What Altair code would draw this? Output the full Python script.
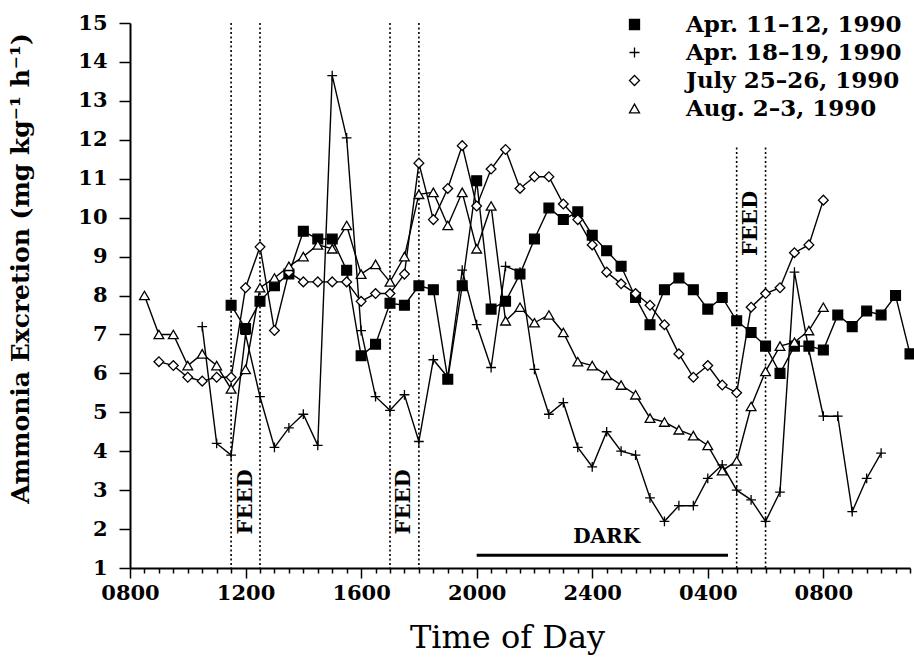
import altair as alt
import pandas as pd

FONT = "DejaVu Serif"

series_names = ["Apr. 11–12, 1990", "Apr. 18–19, 1990", "July 25–26, 1990", "Aug. 2–3, 1990"]

# hours since midnight of day 1 (values > 24 are next day)
apr11_hours = [11.5, 12.0, 12.5, 13.0, 13.5, 14.0, 14.5, 15.0, 15.5, 16.0, 16.5, 17.0,
               17.5, 18.0, 18.5, 19.0, 19.5, 20.0, 20.5, 21.0, 21.5, 22.0, 22.5, 23.0,
               23.5, 24.0, 24.5, 25.0, 25.5, 26.0, 26.5, 27.0, 27.5, 28.0, 28.5, 29.0,
               29.5, 30.0, 30.5, 31.0, 31.5, 32.0, 32.5, 33.0, 33.5, 34.0, 34.5, 35.0]
apr11_vals = [7.75, 7.15, 7.85, 8.25, 8.55, 9.65, 9.45, 9.45, 8.65, 6.45, 6.75, 7.8,
              7.75, 8.25, 8.15, 5.85, 8.25, 10.95, 7.65, 7.85, 8.55, 9.45, 10.25, 9.95,
              10.15, 9.55, 9.15, 8.75, 7.95, 7.25, 8.15, 8.45, 8.15, 7.65, 7.95, 7.35,
              7.05, 6.7, 6.0, 6.7, 6.7, 6.6, 7.5, 7.2, 7.6, 7.5, 8.0, 6.5]

apr18_hours = [10.5, 11.0, 11.5, 12.0, 12.5, 13.0, 13.5, 14.0, 14.5, 15.0, 15.5, 16.0,
               16.5, 17.0, 17.5, 18.0, 18.5, 19.0, 19.5, 20.0, 20.5, 21.0, 21.5, 22.0,
               22.5, 23.0, 23.5, 24.0, 24.5, 25.0, 25.5, 26.0, 26.5, 27.0, 27.5, 28.0,
               28.5, 29.0, 29.5, 30.0, 30.5, 31.0, 31.5, 32.0, 32.5, 33.0, 33.5, 34.0]
apr18_vals = [7.2, 4.2, 3.9, 7.0, 5.4, 4.1, 4.6, 4.95, 4.15, 13.65, 12.05, 7.1,
              5.4, 5.05, 5.45, 4.25, 6.35, 5.9, 8.65, 7.25, 6.15, 8.75, 8.6, 6.1,
              4.95, 5.25, 4.1, 3.6, 4.5, 4.0, 3.9, 2.8, 2.2, 2.6, 2.6, 3.3,
              3.65, 3.0, 2.75, 2.2, 2.95, 8.6, 6.6, 4.9, 4.9, 2.45, 3.3, 3.95]

jul25_hours = [9.0, 9.5, 10.0, 10.5, 11.0, 11.5, 12.0, 12.5, 13.0, 13.5, 14.0, 14.5,
               15.0, 15.5, 16.0, 16.5, 17.0, 17.5, 18.0, 18.5, 19.0, 19.5, 20.0, 20.5,
               21.0, 21.5, 22.0, 22.5, 23.0, 23.5, 24.0, 24.5, 25.0, 25.5, 26.0, 26.5,
               27.0, 27.5, 28.0, 28.5, 29.0, 29.5, 30.0, 30.5, 31.0, 31.5, 32.0]
jul25_vals = [6.3, 6.2, 5.9, 5.8, 5.9, 5.9, 8.2, 9.25, 7.1, 8.6, 8.35, 8.35,
              8.35, 8.35, 7.85, 8.05, 8.05, 8.55, 11.4, 9.95, 10.75, 11.85, 10.3, 11.25,
              11.75, 10.75, 11.05, 11.05, 10.35, 9.95, 9.3, 8.6, 8.3, 8.05, 7.75, 7.25,
              6.5, 5.9, 6.2, 5.7, 5.5, 7.7, 8.05, 8.2, 9.1, 9.3, 10.45]

aug2_hours = [8.5, 9.0, 9.5, 10.0, 10.5, 11.0, 11.5, 12.0, 12.5, 13.0, 13.5, 14.0,
              14.5, 15.0, 15.5, 16.0, 16.5, 17.0, 17.5, 18.0, 18.5, 19.0, 19.5, 20.0,
              20.5, 21.0, 21.5, 22.0, 22.5, 23.0, 23.5, 24.0, 24.5, 25.0, 25.5, 26.0,
              26.5, 27.0, 27.5, 28.0, 28.5, 29.0, 29.5, 30.0, 30.5, 31.0, 31.5, 32.0]
aug2_vals = [8.0, 7.0, 7.0, 6.2, 6.5, 6.2, 5.6, 6.1, 8.2, 8.45, 8.75, 9.0,
             9.3, 9.2, 9.8, 8.55, 8.8, 8.35, 9.0, 10.6, 10.65, 9.8, 10.65, 9.2,
             10.3, 7.35, 7.7, 7.3, 7.5, 7.05, 6.3, 6.2, 5.95, 5.7, 5.45, 4.85,
             4.75, 4.55, 4.4, 4.15, 3.5, 3.75, 5.15, 6.05, 6.7, 6.8, 7.1, 7.7]

feed_hours = [11.5, 12.5, 17.0, 18.0, 29.0, 30.0]
feed_tops = [15.0, 15.0, 15.0, 15.0, 11.8, 11.8]
feed_label_hours = [12.0, 17.5, 29.5]
feed_label_vals = [2.7, 2.7, 9.85]
dark_start, dark_end, dark_level = 20.0, 28.7, 1.33
dark_label_hour, dark_label_val = 24.5, 1.8

rows = []
for name, hrs, vals in zip(series_names,
                           [apr11_hours, apr18_hours, jul25_hours, aug2_hours],
                           [apr11_vals, apr18_vals, jul25_vals, aug2_vals]):
    for h, v in zip(hrs, vals):
        rows.append({"series": name, "hour": h, "value": v})
df = pd.DataFrame(rows)

feed_df = pd.DataFrame({"hour": feed_hours, "value": feed_tops, "bottom": [1.0] * len(feed_hours)})
feed_text_df = pd.DataFrame({"hour": feed_label_hours, "value": feed_label_vals, "label": ["FEED"] * 3})
dark_df = pd.DataFrame({"hour": [dark_start], "end": [dark_end], "value": [dark_level]})
dark_text_df = pd.DataFrame({"hour": [dark_label_hour], "value": [dark_label_val], "label": ["DARK"]})

x_scale = alt.Scale(domain=[8, 35], nice=False, zero=False)
y_scale = alt.Scale(domain=[1, 15], nice=False, zero=False)

half_hours = [8 + 0.5 * i for i in range(55)]

x_axis = alt.Axis(
    values=half_hours,
    labelExpr="datum.value % 4 === 0 ? format(datum.value > 24 ? datum.value - 24 : datum.value, '02d') + '00' : ''",
    tickSize={"condition": {"test": "datum.value % 4 === 0", "value": 10}, "value": 5},
    tickWidth=1.5, tickColor="black",
    domainWidth=2, domainColor="black",
    labelFont=FONT, labelFontSize=21, labelFontWeight="bold", labelColor="black",
    labelPadding=4, labelOverlap=False, labelFlush=False,
    grid=False,
    title="Time of Day", titleFont=FONT, titleFontSize=32, titleFontWeight="normal",
    titleColor="black", titleX=377, titleY=79, titleBaseline="alphabetic", titleAlign="center",
)
y_axis = alt.Axis(
    values=list(range(1, 16)),
    tickSize=11, tickWidth=1.5, tickColor="black",
    domainWidth=2, domainColor="black",
    labelFont=FONT, labelFontSize=21, labelFontWeight="bold", labelColor="black",
    labelPadding=12, labelOverlap=False, labelSeparation=0, grid=False,
    title="Ammonia Excretion (mg kg⁻¹ h⁻¹)", titleFont=FONT, titleFontSize=25,
    titleFontWeight="bold", titleColor="black",
    titleX=-110, titleY=245, titleAngle=-90, titleAlign="center", titleBaseline="middle",
)

legend = alt.Legend(
    title=None, orient="none", legendX=493, legendY=-10,
    labelFont=FONT, labelFontSize=23, labelFontWeight="bold", labelColor="black",
    labelLimit=0, symbolSize=100, symbolStrokeWidth=1.3,
    rowPadding=4, labelOffset=40,
)

shape_scale = alt.Scale(domain=series_names,
                        range=["square", "M-1,0L1,0M0,-1L0,1", "diamond", "triangle-up"])
fill_scale = alt.Scale(domain=series_names, range=["black", "white", "white", "white"])
stroke_scale = alt.Scale(domain=series_names, range=["black", "black", "black", "black"])

X = alt.X("hour:Q", scale=x_scale, axis=x_axis)
Y = alt.Y("value:Q", scale=y_scale, axis=y_axis)

feed_rules = alt.Chart(feed_df).mark_rule(color="black", strokeWidth=1.6, strokeDash=[2, 2.5]).encode(
    x=X, y=Y, y2="bottom:Q",
)
feed_text = alt.Chart(feed_text_df).mark_text(
    angle=270, font=FONT, fontSize=21, fontWeight="bold", color="black",
    align="center", baseline="middle",
).encode(x=X, y=Y, text="label:N")

dark_rule = alt.Chart(dark_df).mark_rule(color="black", strokeWidth=3).encode(
    x=X, x2="end:Q", y=Y
)
dark_text = alt.Chart(dark_text_df).mark_text(
    font=FONT, fontSize=20, fontWeight="bold", color="black", align="center", baseline="middle",
).encode(x=X, y=Y, text="label:N")

lines = alt.Chart(df).mark_line(color="black", strokeWidth=1.4).encode(
    x=X, y=Y, detail="series:N", order="hour:Q",
)
points = alt.Chart(df).mark_point(filled=True, strokeWidth=1.3, opacity=1, size=95).encode(
    x=X,
    y=Y,
    shape=alt.Shape("series:N", scale=shape_scale, legend=legend),
    fill=alt.Fill("series:N", scale=fill_scale, legend=legend),
    stroke=alt.Stroke("series:N", scale=stroke_scale, legend=legend),
)

chart = alt.layer(feed_rules, feed_text, dark_rule, dark_text, lines, points).properties(
    width=780, height=545,
    autosize=alt.AutoSizeParams(type="none"),
    padding={"left": 130, "top": 23, "right": 4, "bottom": 90},
    background="white",
).configure_view(stroke=None).configure_axisY(labelOverlap=False)

chart.save("out.html", embed_options={"renderer": "svg", "actions": False})
